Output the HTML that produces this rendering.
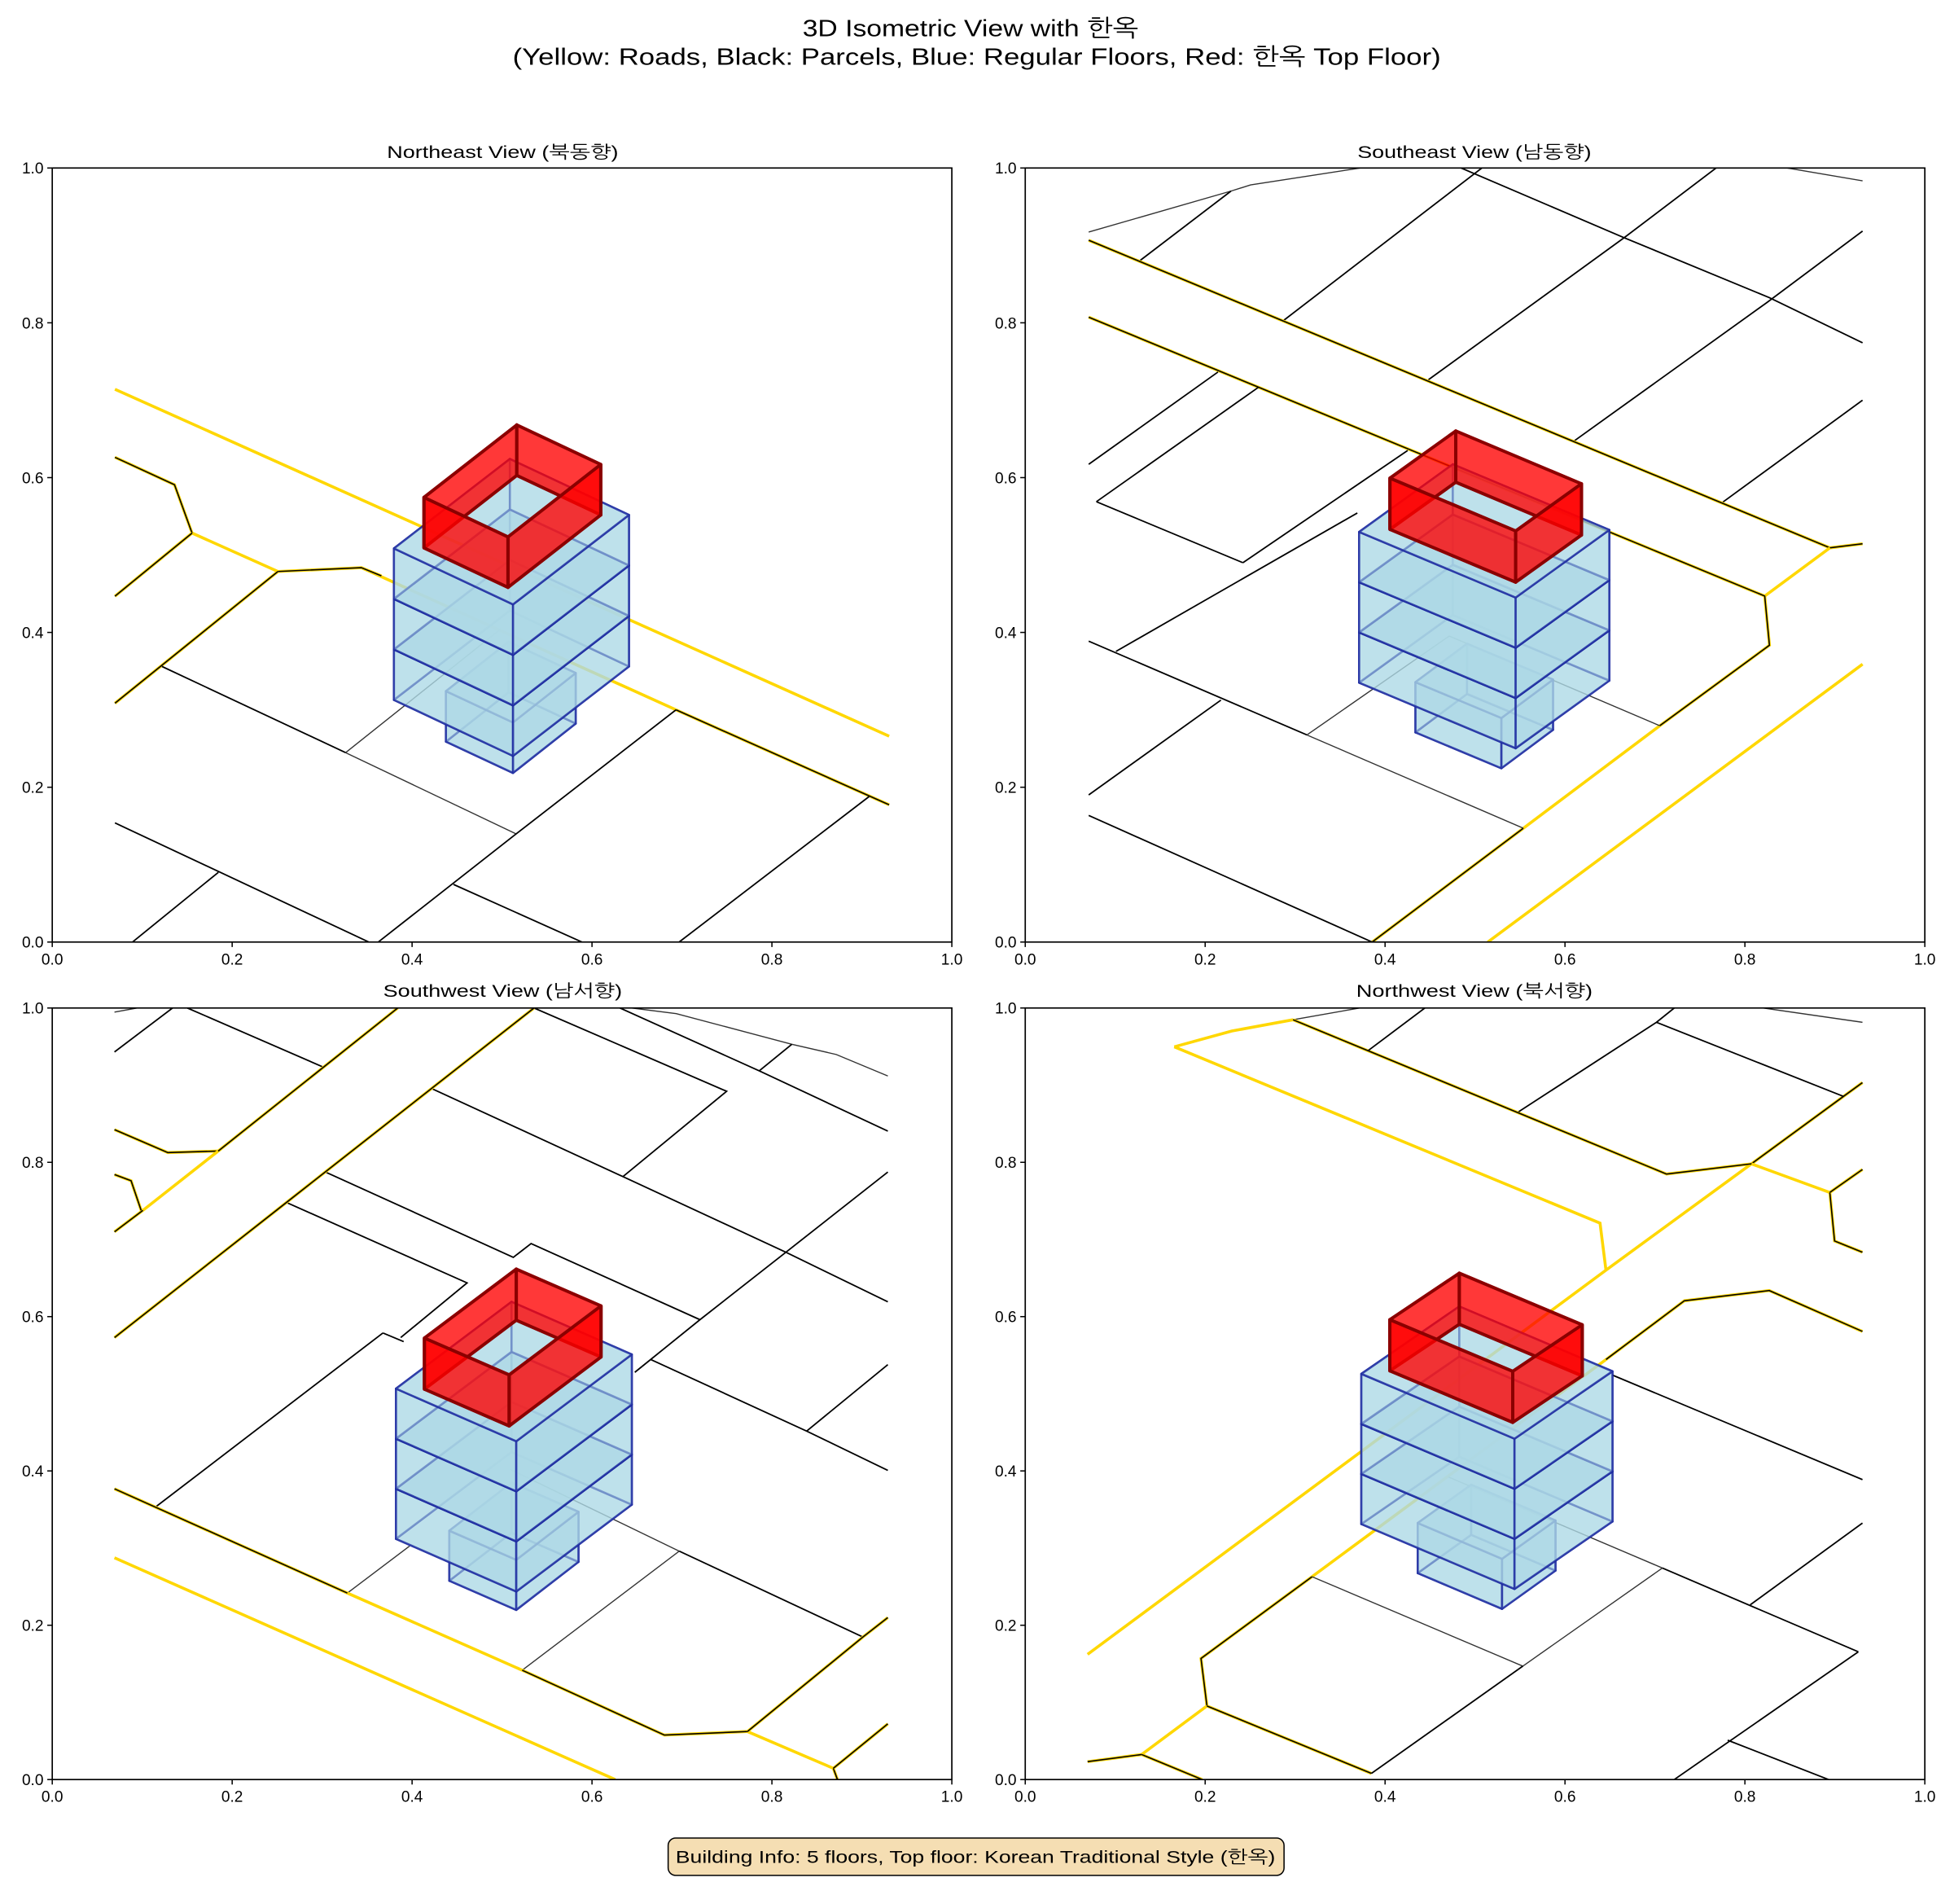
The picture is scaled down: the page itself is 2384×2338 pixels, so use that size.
<!DOCTYPE html>
<html><head><meta charset="utf-8"><style>
html,body{margin:0;padding:0;background:#fff}
svg{display:block}
text{font-family:"Liberation Sans","NanumGothic","Noto Sans CJK KR",sans-serif;fill:#000}
</style></head><body>
<svg id="s" xmlns="http://www.w3.org/2000/svg" width="2384" height="2338" viewBox="0 0 1560 1530" preserveAspectRatio="none">
<rect width="1560" height="1530" fill="#fff"/>
<text x="780" y="29" font-size="19" text-anchor="middle" textLength="270" lengthAdjust="spacingAndGlyphs">3D Isometric View with 한옥</text>
<text x="785" y="52" font-size="19" text-anchor="middle" textLength="746" lengthAdjust="spacingAndGlyphs">(Yellow: Roads, Black: Parcels, Blue: Regular Floors, Red: 한옥 Top Floor)</text>
<text x="404" y="127" font-size="14" text-anchor="middle" textLength="186" lengthAdjust="spacingAndGlyphs">Northeast View (북동향)</text>
<text x="1185" y="127" font-size="14" text-anchor="middle" textLength="188" lengthAdjust="spacingAndGlyphs">Southeast View (남동향)</text>
<text x="404" y="801" font-size="14" text-anchor="middle" textLength="192" lengthAdjust="spacingAndGlyphs">Southwest View (남서향)</text>
<text x="1185" y="801" font-size="14" text-anchor="middle" textLength="190" lengthAdjust="spacingAndGlyphs">Northwest View (북서향)</text>
<g id="content"></g>
<rect x="537" y="1477" width="495" height="30" rx="6" fill="#F5DEB3" stroke="#000" stroke-width="1"/>
<text x="784" y="1497" font-size="14" text-anchor="middle" textLength="482" lengthAdjust="spacingAndGlyphs">Building Info: 5 floors, Top floor: Korean Traditional Style (한옥)</text>
</svg>
<script>
var NS="http://www.w3.org/2000/svg";
var root=document.getElementById('content');
function el(tag,attrs,parent){var e=document.createElementNS(NS,tag);for(var k in attrs)e.setAttribute(k,attrs[k]);(parent||root).appendChild(e);return e;}
var P=[
{X:42,Y:135,H:622,zl:85,zr:1520,zt:85,zb:1495,
 lines:[
 ['y',[[185,488],[1420,1120]]],
 ['y',[[308,750],[445,820]]],['y',[[578,813],[1080,1072]]],
 ['yb',[[185,612],[280,662],[308,750]]],['yb',[[185,865],[308,750]]],['yb',[[185,1060],[445,820]]],
 ['yb',[[445,820],[578,813],[610,828]]],['yb',[[1080,1072],[1420,1245]]],
 ['b',[[260,993],[553,1150]]],['g',[[553,1150],[825,1298]]],['g',[[553,1150],[800,925]]],
 ['b',[[825,1298],[1080,1072]]],['b',[[1388,1230],[1085,1495]]],['b',[[185,1278],[590,1495]]],
 ['b',[[825,1298],[605,1495]]],['b',[[725,1390],[930,1495]]],['b',[[350,1368],[213,1495]]]
 ],
 red:{F:[812,757],L:[678,685],R:[960,625],h:92},
 main:{F:[820,880],L:[630,778],R:[1005,717],h:92},
 small:{F:[820,1095],L:[713,1038],R:[920,1005],h:92}},
{X:824,Y:135,H:622,zl:5,zr:1522,zt:27,zb:1537,
 lines:[
 ['g',[[112,152],[352,72],[385,60],[570,27]]],['g',[[1290,27],[1417,52]]],
 ['b',[[198,208],[352,72]]],['b',[[440,325],[775,27]]],['b',[[740,27],[1015,163],[1260,280],[1417,368]]],
 ['b',[[685,440],[1015,163],[1170,27]]],['b',[[930,560],[1255,290],[1417,150]]],['b',[[1180,680],[1417,480]]],
 ['yb',[[112,168],[1362,768],[1417,760]]],['y',[[1362,768],[1252,862]]],
 ['yb',[[112,318],[1252,862],[1260,958],[1075,1115]]],['y',[[1075,1115],[845,1315]]],['yb',[[845,1315],[590,1537]]],
 ['y',[[1417,995],[785,1537]]],
 ['b',[[112,605],[330,425]]],['b',[[125,678],[398,455]]],['b',[[125,678],[372,797]]],['b',[[372,797],[650,578]]],
 ['b',[[158,970],[565,700]]],['b',[[112,950],[480,1133]]],['g',[[480,1133],[845,1315]]],['g',[[480,1133],[720,940]]],
 ['g',[[720,940],[1075,1115]]],['b',[[112,1250],[335,1065]]],['b',[[112,1290],[590,1537]]]
 ],
 red:{F:[832,735],L:[620,632],R:[943,643],h:100},
 main:{F:[832,865],L:[568,737],R:[990,733],h:98},
 small:{F:[808,1100],L:[663,1030],R:[895,1025],h:98}},
{X:42,Y:810,H:620,zl:7,zr:1525,zt:17,zb:1527,
 lines:[
 ['g',[[112,25],[150,17]]],['g',[[985,17],[1060,28],[1255,88],[1330,108],[1417,150]]],
 ['b',[[112,103],[210,17]]],['b',[[235,17],[465,133]]],['b',[[820,17],[1145,180],[970,347]]],
 ['b',[[965,17],[1200,140],[1417,258]]],['b',[[1200,140],[1255,88]]],
 ['b',[[648,175],[970,347],[1245,495],[1417,592]]],
 ['b',[[468,338],[785,505],[815,478],[1100,627]]],['b',[[990,730],[1100,627],[1245,495],[1417,338]]],
 ['b',[[1017,705],[1280,845],[1417,922]]],['b',[[1280,845],[1417,715]]],
 ['b',[[403,398],[707,555],[595,662]]],['b',[[565,653],[182,993]]],['b',[[565,653],[600,670]]],
 ['g',[[780,920],[1065,1080]]],['b',[[1065,1080],[1375,1248]]],['g',[[1065,1080],[800,1313]]],['g',[[505,1162],[610,1070]]],
 ['yb',[[112,255],[202,300],[287,297]]],['y',[[287,297],[160,413]]],['yb',[[112,455],[160,413]]],
 ['yb',[[112,343],[140,355],[157,413]]],['yb',[[287,297],[590,17]]],
 ['yb',[[112,662],[405,395],[820,17]]],
 ['yb',[[112,958],[505,1162]]],['y',[[505,1162],[800,1313]]],['yb',[[800,1313],[1040,1440],[1180,1433]]],
 ['y',[[1180,1433],[1325,1505]]],['yb',[[1325,1505],[1332,1527]]],['yb',[[1180,1433],[1375,1248],[1417,1210]]],
 ['y',[[112,1093],[957,1527]]],['yb',[[1325,1505],[1417,1418]]]
 ],
 red:{F:[778,735],L:[635,663],R:[933,600],h:100},
 main:{F:[790,865],L:[587,762],R:[985,695],h:98},
 small:{F:[790,1097],L:[677,1040],R:[895,1003],h:98}},
{X:824,Y:810,H:620,zl:7,zr:1522,zt:17,zb:1527,
 lines:[
 ['g',[[458,40],[570,17]]],['g',[[1250,17],[1417,45]]],
 ['y',[[258,93],[355,62],[458,40]]],['y',[[258,93],[975,438],[985,530]]],
 ['y',[[112,1282],[985,530],[1230,322]]],['yb',[[1230,322],[1385,190],[1417,163]]],
 ['y',[[1230,322],[1362,378]]],['yb',[[1362,378],[1370,473],[1417,495]]],['yb',[[1362,378],[1417,333]]],
 ['yb',[[458,40],[1087,342],[1230,322]]],
 ['yb',[[1417,650],[1260,570],[1117,590],[985,705]]],['y',[[985,705],[490,1130]]],
 ['yb',[[490,1130],[303,1290],[313,1383]]],['y',[[313,1383],[203,1478]]],
 ['yb',[[112,1492],[203,1478]]],['yb',[[203,1478],[305,1527]]],['yb',[[313,1383],[590,1515]]],
 ['b',[[585,100],[680,17]]],['b',[[838,220],[1070,45],[1100,17]]],['b',[[1070,45],[1385,190]]],
 ['b',[[995,735],[1417,940]]],['g',[[490,1130],[845,1305],[1080,1113]]],['b',[[1080,1113],[1410,1277]]],
 ['b',[[1228,1185],[1417,1025]]],['b',[[845,1305],[590,1515]]],['b',[[1100,1527],[1410,1277]]],
 ['b',[[1190,1450],[1360,1527]]],['g',[[720,935],[1080,1113]]]
 ],
 red:{F:[828,728],L:[621,627],R:[945,637],h:100},
 main:{F:[831,860],L:[573,733],R:[996,728],h:98},
 small:{F:[810,1095],L:[668,1025],R:[900,1020],h:98}}
];
function pts(a){return a.map(function(p){return p[0]+','+p[1]}).join(' ');}
function add(p,dy){return [p[0],p[1]+dy];}
function box(g,F,L,R,h){
 var B=[L[0]+R[0]-F[0],L[1]+R[1]-F[1]];
 var Fb=add(F,h),Lb=add(L,h),Rb=add(R,h),Bb=add(B,h);
 var faces=[[Fb,Lb,Bb,Rb],[L,B,Bb,Lb],[B,R,Rb,Bb],[L,F,Fb,Lb],[F,R,Rb,Fb],[F,L,B,R]];
 faces.forEach(function(f){el('polygon',{points:pts(f),fill:'#ADD8E6','fill-opacity':'0.55',stroke:'#1c2aa0','stroke-opacity':'0.75','stroke-width':'2.6','stroke-linejoin':'round','vector-effect':'non-scaling-stroke'},g);});
}
function walls(g,F,L,R,h){
 var B=[L[0]+R[0]-F[0],L[1]+R[1]-F[1]];
 var Fb=add(F,h),Lb=add(L,h),Rb=add(R,h),Bb=add(B,h);
 var faces=[[L,B,Bb,Lb],[B,R,Rb,Bb],[L,F,Fb,Lb],[F,R,Rb,Fb]];
 faces.forEach(function(f){el('polygon',{points:pts(f),fill:'#FF0000','fill-opacity':'0.78',stroke:'#8B0000','stroke-width':'4','stroke-linejoin':'round','vector-effect':'non-scaling-stroke'},g);});
}
P.forEach(function(p,i){
 var W=723;
 var cp=el('clipPath',{id:'c'+i});
 el('rect',{x:p.X,y:p.Y,width:W,height:p.H},cp);
 var outer=el('g',{'clip-path':'url(#c'+i+')'});
 var sx=W/(p.zr-p.zl), sy=p.H/(p.zb-p.zt);
 var g=el('g',{transform:'translate('+p.X+','+p.Y+') scale('+sx+','+sy+') translate('+(-p.zl)+','+(-p.zt)+')'},outer);
 p.lines.forEach(function(l){
  var t=l[0],pp=pts(l[1]);
  if(t=='y'||t=='yb') el('polyline',{points:pp,fill:'none',stroke:'#FFD700','stroke-width':'3.6','vector-effect':'non-scaling-stroke'},g);
  if(t=='yb') el('polyline',{points:pp,fill:'none',stroke:'#000','stroke-width':'1.6','vector-effect':'non-scaling-stroke'},g);
  if(t=='b') el('polyline',{points:pp,fill:'none',stroke:'#000','stroke-width':'1.8','vector-effect':'non-scaling-stroke'},g);
  if(t=='g') el('polyline',{points:pp,fill:'none',stroke:'#333','stroke-width':'1.4','vector-effect':'non-scaling-stroke'},g);
 });
 var s=p.small; box(g,s.F,s.L,s.R,s.h);
 var m=p.main;
 for(var k=2;k>=0;k--){box(g,add(m.F,k*m.h),add(m.L,k*m.h),add(m.R,k*m.h),m.h);}
 var r=p.red; walls(g,r.F,r.L,r.R,r.h);
 el('rect',{x:p.X,y:p.Y,width:W,height:p.H,fill:'none',stroke:'#000','stroke-width':'1.1'});
 for(var j=0;j<=5;j++){
  var v=j*0.2, lab=v.toFixed(1);
  var x=p.X+v*W, y=p.Y+p.H-v*p.H;
  el('line',{x1:x,y1:p.Y+p.H,x2:x,y2:p.Y+p.H+4,stroke:'#000','stroke-width':'1'});
  var t1=el('text',{x:x,y:p.Y+p.H+18,'font-size':'12.5','text-anchor':'middle'});t1.textContent=lab;
  el('line',{x1:p.X-4,y1:y,x2:p.X,y2:y,stroke:'#000','stroke-width':'1'});
  var t2=el('text',{x:p.X-7,y:y+4.5,'font-size':'12.5','text-anchor':'end'});t2.textContent=lab;
 }
});
</script>
</body></html>
